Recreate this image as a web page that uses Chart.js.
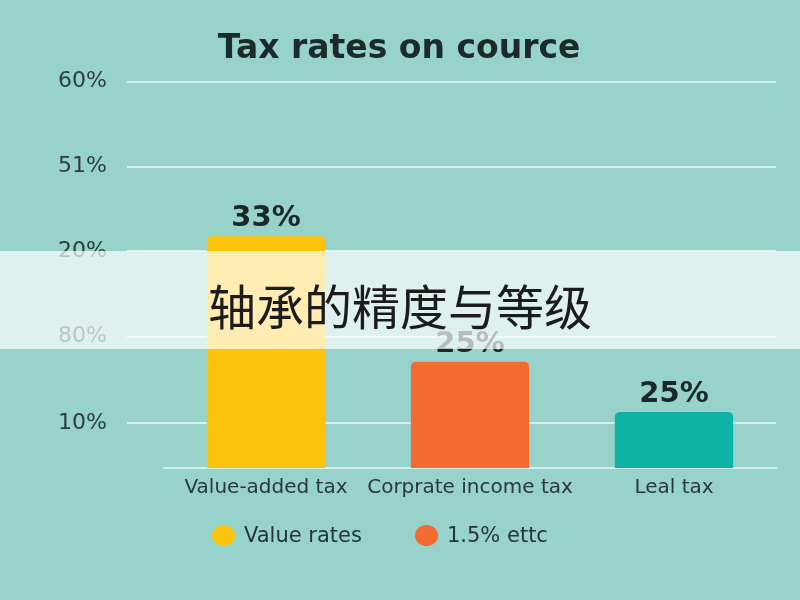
<!DOCTYPE html>
<html>
<head>
<meta charset="utf-8">
<script src="https://cdn.jsdelivr.net/npm/chart.js@4/dist/chart.umd.min.js"></script>
<style>
  html, body { margin: 0; padding: 0; }
  body { width: 800px; height: 600px; background: #97d3cb; position: relative; overflow: hidden; }
  #wrap { position: absolute; left: 0; top: 0; width: 800px; height: 600px; }
  #legend { position: absolute; left: 212px; top: 522px; height: 26px; display: flex; align-items: center;
    font-family: "DejaVu Sans", sans-serif; font-size: 21px; color: #263535; }
  #legend .item { display: flex; align-items: center; margin-right: 53px; }
  #legend .dot { width: 23px; height: 21px; border-radius: 50%; margin-right: 9px; }
  #banner { position: absolute; left: 0; top: 251px; width: 800px; height: 98px; background: rgba(255,255,255,0.69);
    display: flex; align-items: center; justify-content: center;
    font-family: "Noto Sans CJK SC", sans-serif; font-size: 48px; color: #1c1c1c; }
  #banner span { position: relative; top: 4px; }
</style>
</head>
<body>
<div id="wrap"><canvas id="taxChart" width="800" height="600"></canvas></div>
<div id="legend"></div>
<div id="banner"><span>轴承的精度与等级</span></div>
<script>
// data
var categories = ["Value-added tax", "Corprate income tax", "Leal tax"];
var barValues = [36.0, 16.5, 8.7];
var barLabels = ["33%", "25%", "25%"];
var barColors = ["#fbc30b", "#f36b32", "#0fb3a6"];
var yTickValues = [7, 20.4, 33.7, 46.8, 60];
var yTickLabels = ["10%", "80%", "20%", "51%", "60%"];
var legendNames = ["Value rates", "1.5% ettc"];
var legendColors = ["#fbc30b", "#f36b32"];

var gridColor = "rgba(228,248,244,0.8)";

// little plugin for the numbers above the bars
var barTopLabels = {
	id: "barTopLabels",
	afterDatasetsDraw: function(chart) {
		var ctx = chart.ctx;
		var meta = chart.getDatasetMeta(0);
		ctx.save();
		ctx.font = "bold 29px 'DejaVu Sans', sans-serif";
		ctx.fillStyle = "#1b2828";
		ctx.textAlign = "center";
		ctx.textBaseline = "bottom";
		meta.data.forEach(function(bar, i) {
			ctx.fillText(barLabels[i], bar.x, bar.y - 3);
		});
		ctx.restore();
	}
};

var ctx = document.getElementById("taxChart");

var data = {
	labels: categories,
	datasets: [
		{
			data: barValues,
			backgroundColor: barColors,
			borderRadius: 5,
			borderSkipped: "bottom",
			categoryPercentage: 1,
			barPercentage: 0.58
		}
	]
};

var options = {
	responsive: false,
	animation: false,
	layout: {
		padding: { top: 0, right: 24, bottom: 92, left: 22 }
	},
	plugins: {
		legend: { display: false },
		tooltip: { enabled: false },
		title: {
			display: true,
			text: "Tax rates on cource",
			color: "#1d2a2a",
			font: { family: "'DejaVu Sans', sans-serif", size: 33, weight: "bold" },
			padding: { top: 30, bottom: 12 }
		}
	},
	scales: {
		x: {
			grid: { display: false, drawTicks: false },
			border: { display: true, color: gridColor, width: 2 },
			ticks: {
				color: "#2a3838",
				padding: 8,
				maxRotation: 0,
				minRotation: 0,
				autoSkip: false,
				font: { family: "'DejaVu Sans', sans-serif", size: 20 }
			}
		},
		y: {
			min: 0,
			max: 60,
			afterBuildTicks: function(scale) {
				scale.ticks = yTickValues.map(function(v) { return { value: v }; });
			},
			afterFit: function(scale) {
				scale.width = 142;
			},
			border: { display: false },
			grid: { color: gridColor, lineWidth: 2, tickLength: 37 },
			ticks: {
				color: "#2e3d3d",
				padding: 20,
				font: { family: "'DejaVu Sans', sans-serif", size: 22 },
				callback: function(value, index) { return yTickLabels[index]; }
			}
		}
	}
};

var chart = new Chart(ctx, {
	type: "bar",
	data: data,
	options: options,
	plugins: [barTopLabels]
});

// legend in html, the chart.js one can't space the items like the picture
var legendBox = document.getElementById("legend");
legendNames.forEach(function(name, i) {
	var item = document.createElement("div");
	item.className = "item";
	var dot = document.createElement("span");
	dot.className = "dot";
	dot.style.background = legendColors[i];
	var txt = document.createElement("span");
	txt.textContent = name;
	item.appendChild(dot);
	item.appendChild(txt);
	legendBox.appendChild(item);
});
</script>
</body>
</html>
